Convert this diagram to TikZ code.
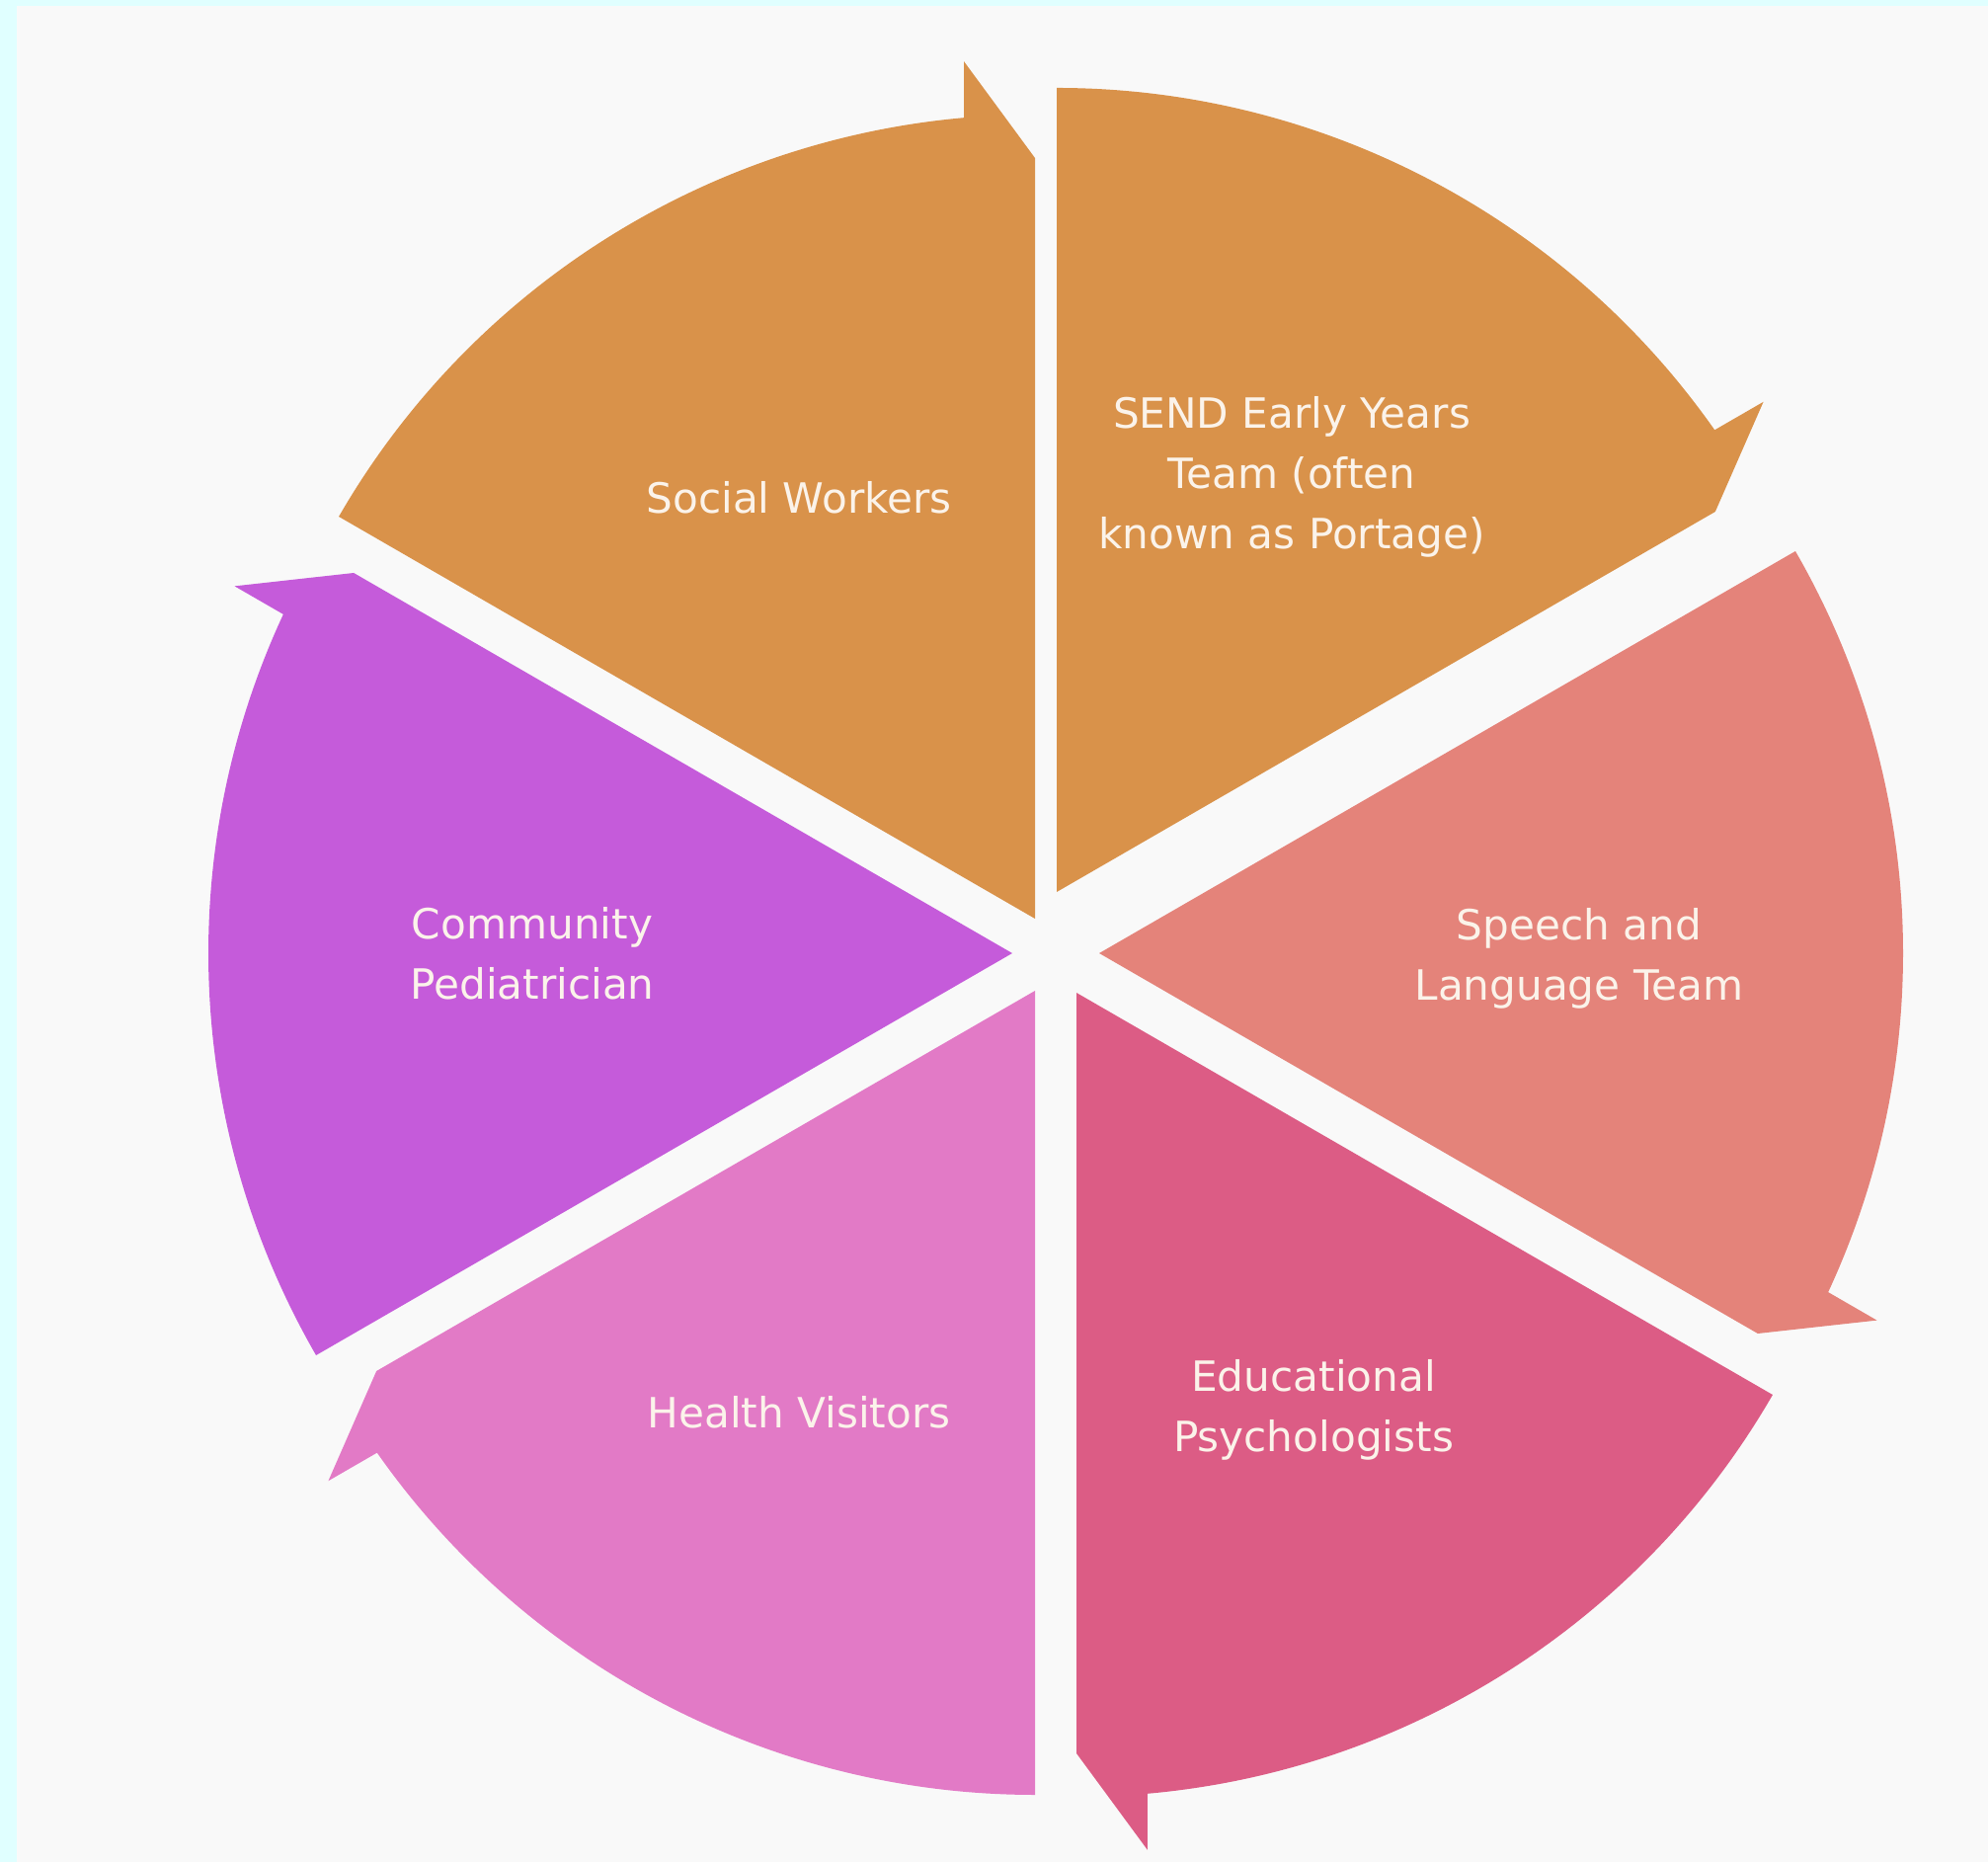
\documentclass[tikz,border=0pt]{standalone}
\usepackage{fontspec}
\setmainfont{DejaVu Sans}
\usetikzlibrary{calc}
\definecolor{bgcyan}{HTML}{E0FFFF}
\definecolor{bggray}{HTML}{F9F9F9}
\definecolor{cOrange}{HTML}{D9924A}
\definecolor{cSalmon}{HTML}{E4837A}
\definecolor{cRose}{HTML}{DC5C85}
\definecolor{cPink}{HTML}{E27AC6}
\definecolor{cPurple}{HTML}{C55BDA}
\definecolor{txt}{HTML}{FBF3EA}
\newcommand\wedgeseg[4]{%
  \fill[#4] (#1) -- ($(#1)+(#2:8.14)$)
    arc[start angle=#2, end angle=#3+5.07, radius=8.14cm]
    -- ++(#3:0.57) -- ($(#1)+(#3:7.70)$) -- cycle;}
\tikzset{lbl/.style={text=txt, align=center, font=\fontsize{12}{17.3}\selectfont, inner sep=0pt}}
\begin{document}
\begin{tikzpicture}[x=1cm,y=1cm]
\fill[bgcyan] (0,0) rectangle (20.13,18.85);
\fill[bggray] (0.17,0) rectangle (20.13,18.79);
\useasboundingbox (0,0) rectangle (20.13,18.85);
\coordinate (aSW) at (10.48,9.55);
\coordinate (aSE) at (10.70,9.82);
\coordinate (aSP) at (11.13,9.20);
\coordinate (aED) at (10.90,8.80);
\coordinate (aHV) at (10.48,8.82);
\coordinate (aCP) at (10.25,9.20);
\wedgeseg{aSW}{150}{90}{cOrange}
\wedgeseg{aSE}{90}{30}{cOrange}
\wedgeseg{aSP}{30}{-30}{cSalmon}
\wedgeseg{aED}{-30}{-90}{cRose}
\wedgeseg{aHV}{-90}{-150}{cPink}
\wedgeseg{aCP}{210}{150}{cPurple}
\node[lbl] (tSW) at (8.09,13.81) {Social Workers};
\node[lbl] (tSE) at (13.08,14.02) {SEND Early Years\\Team (often\\known as Portage)};
\node[lbl] (tSP) at (15.99,9.15) {Speech and\\Language Team};
\node[lbl] (tED) at (13.30,4.58) {Educational\\Psychologists};
\node[lbl] (tHV) at (8.09,4.55) {Health Visitors};
\node[lbl] (tCP) at (5.39,9.20) {Community\\Pediatrician};
\end{tikzpicture}
\end{document}
